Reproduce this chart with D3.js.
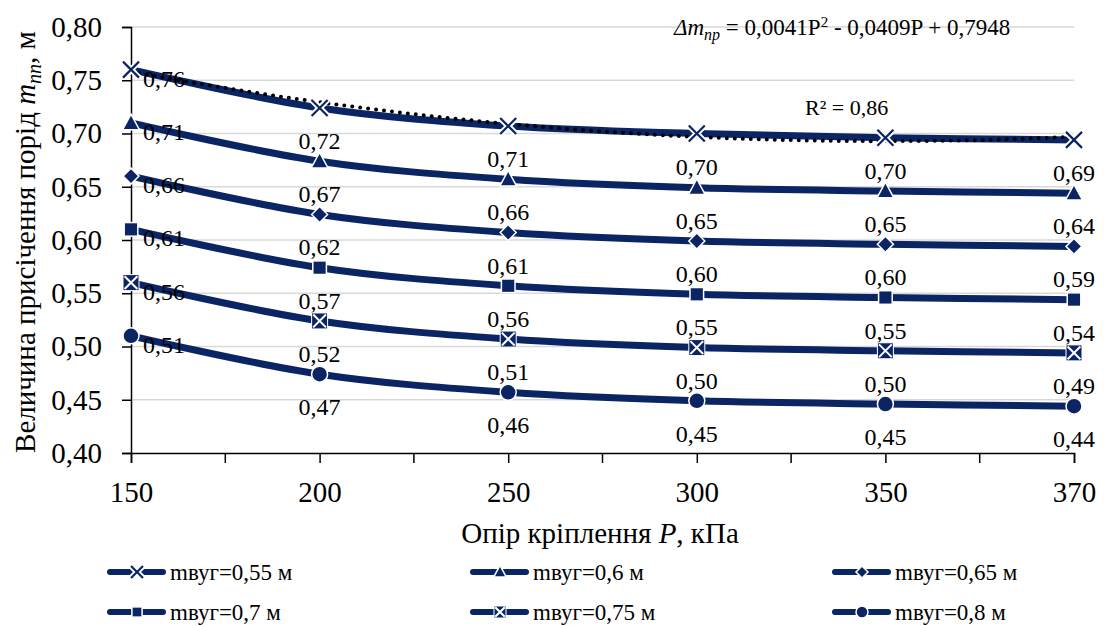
<!DOCTYPE html>
<html>
<head>
<meta charset="utf-8">
<script src="https://cdn.jsdelivr.net/npm/d3@7"></script>
</head>
<body style="margin:0;background:#fff">
<div id="chart"></div>
<script>
// categories (support resistance P, kPa)
const categories = ["150", "200", "250", "300", "350", "370"];

// series values, m
const s055 = [0.76, 0.724, 0.707, 0.700, 0.696, 0.694];
const s060 = [0.71, 0.674, 0.657, 0.649, 0.646, 0.644];
const s065 = [0.66, 0.624, 0.607, 0.599, 0.596, 0.594];
const s070 = [0.61, 0.574, 0.557, 0.549, 0.546, 0.544];
const s075 = [0.56, 0.524, 0.507, 0.499, 0.496, 0.494];
const s080 = [0.51, 0.474, 0.457, 0.449, 0.446, 0.444];

const seriesNames = ["mвуг=0,55 м", "mвуг=0,6 м", "mвуг=0,65 м", "mвуг=0,7 м", "mвуг=0,75 м", "mвуг=0,8 м"];
const markerTypes = ["x", "triangle", "diamond", "square", "xbox", "circle"];

// y ticks
const yTicks = [0.40, 0.45, 0.50, 0.55, 0.60, 0.65, 0.70, 0.75, 0.80];

// polynomial trendline on the first series (from the chart's equation)
const trendCoef = [0.7948, -0.0409, 0.0041];

const navy = "#0b2464";
const FONT = "Liberation Serif";
const W = 1104, H = 626;
const margin = {top: 27, right: 30, bottom: 173, left: 131};
const width = W - margin.left - margin.right;
const height = H - margin.top - margin.bottom;

const svg = d3.select("#chart").append("svg")
  .attr("width", W).attr("height", H);
const g = svg.append("g").attr("transform", `translate(${margin.left},${margin.top})`);

const x = d3.scalePoint().domain(categories).range([0, width]);
const y = d3.scaleLinear().domain([0.40, 0.80]).range([height, 0]);
const fmt = v => v.toFixed(2).replace(".", ",");

// grid
g.append("g").selectAll("line").data(yTicks.slice(1)).enter().append("line")
  .attr("x1", 0).attr("x2", width)
  .attr("y1", d => y(d)).attr("y2", d => y(d))
  .attr("stroke", "#d9d9d9").attr("stroke-width", 1.5);

// axes
const yAxis = g.append("g")
  .call(d3.axisLeft(y).tickValues(yTicks).tickSize(9).tickPadding(20).tickFormat(fmt));
const xAxis = g.append("g").attr("transform", `translate(0,${height})`)
  .call(d3.axisBottom(x).tickSize(10).tickPadding(18));
[yAxis, xAxis].forEach(a => {
  a.select(".domain").attr("stroke", "#000").attr("stroke-width", 1.5);
  a.selectAll(".tick line").attr("stroke", "#000").attr("stroke-width", 1.5);
  a.selectAll(".tick text").attr("fill", "#000")
    .attr("font-family", FONT).attr("font-size", 29);
});
// extra ticks between categories
const mids = d3.pairs(categories).map(p => (x(p[0]) + x(p[1])) / 2);
xAxis.selectAll(".mid").data(mids).enter().append("line")
  .attr("x1", d => d).attr("x2", d => d).attr("y1", 0).attr("y2", 10)
  .attr("stroke", "#000").attr("stroke-width", 1.5);

// lines
const allSeries = [s055, s060, s065, s070, s075, s080];
const line = d3.line()
  .x((d, i) => x(categories[i]))
  .y(d => y(d))
  .curve(d3.curveCatmullRom.alpha(0.5));

allSeries.forEach(s => {
  g.append("path").datum(s).attr("d", line)
    .attr("fill", "none").attr("stroke", navy).attr("stroke-width", 7);
});

// trendline
const tx = d3.scaleLinear().domain([1, categories.length]).range([0, width]);
const trendPts = d3.range(1, categories.length + 0.001, 0.05)
  .map(t => [tx(t), y(trendCoef[0] + trendCoef[1] * t + trendCoef[2] * t * t)]);
g.append("path").datum(trendPts).attr("d", d3.line())
  .attr("fill", "none").attr("stroke", "#000").attr("stroke-width", 4)
  .attr("stroke-linecap", "round").attr("stroke-dasharray", "0 8");

function drawMarker(sel, type, cx, cy, s) {
  const m = sel.append("g").attr("transform", `translate(${cx},${cy})`);
  if (type === "x") {
    const p = `M${-s},${-s}L${s},${s}M${-s},${s}L${s},${-s}`;
    m.append("path").attr("d", p).attr("stroke", "#fff").attr("stroke-width", 6);
    m.append("path").attr("d", p).attr("stroke", navy).attr("stroke-width", 2.2);
  } else if (type === "triangle") {
    m.append("path").attr("d", `M0,${-s * 1.1}L${s * 1.05},${s * 0.85}L${-s * 1.05},${s * 0.85}Z`)
      .attr("fill", navy).attr("stroke", "#fff").attr("stroke-width", 1.5);
  } else if (type === "diamond") {
    m.append("path").attr("d", `M0,${-s}L${s},0L0,${s}L${-s},0Z`)
      .attr("fill", navy).attr("stroke", "#fff").attr("stroke-width", 1.5);
  } else if (type === "square") {
    m.append("rect").attr("x", -s * 0.85).attr("y", -s * 0.85).attr("width", s * 1.7).attr("height", s * 1.7)
      .attr("fill", navy).attr("stroke", "#fff").attr("stroke-width", 1.5);
  } else if (type === "xbox") {
    m.append("rect").attr("x", -s).attr("y", -s).attr("width", 2 * s).attr("height", 2 * s)
      .attr("fill", navy).attr("stroke", "#fff").attr("stroke-width", 1);
    const k = s * 0.8;
    m.append("path").attr("d", `M${-k},${-k}L${k},${k}M${-k},${k}L${k},${-k}`)
      .attr("stroke", "#fff").attr("stroke-width", 2);
  } else {
    m.append("circle").attr("r", s).attr("fill", navy).attr("stroke", "#fff").attr("stroke-width", 1.5);
  }
}

// markers and data labels
allSeries.forEach((s, si) => {
  s.forEach((v, i) => {
    const cx = x(categories[i]), cy = y(v);
    drawMarker(g, markerTypes[si], cx, cy, 8);
    const t = g.append("text").text(fmt(v))
      .attr("font-family", FONT).attr("font-size", 24).attr("fill", "#000");
    if (i === 0) t.attr("x", cx + 12).attr("y", cy + 17);
    else t.attr("x", cx).attr("y", cy + 41).attr("text-anchor", "middle");
  });
});

// equation and R²
const eq = svg.append("text").attr("x", 674).attr("y", 35)
  .attr("font-family", FONT).attr("font-size", 23);
eq.append("tspan").attr("font-style", "italic").text("Δm");
eq.append("tspan").attr("font-style", "italic").attr("font-size", 16).attr("dy", 5).text("пр");
eq.append("tspan").attr("dy", -5).text(" = 0,0041P");
eq.append("tspan").attr("font-size", 15).attr("dy", -8).text("2");
eq.append("tspan").attr("dy", 8).text(" - 0,0409P + 0,7948");
svg.append("text").attr("x", 805).attr("y", 115)
  .attr("font-family", FONT).attr("font-size", 22).text("R² = 0,86");

// axis titles
const yt = svg.append("text").attr("transform", `translate(35,242) rotate(-90)`)
  .attr("font-family", FONT).attr("text-anchor", "middle").attr("font-size", 29);
yt.append("tspan").text("Величина присічення порід ");
yt.append("tspan").attr("font-style", "italic").text("m");
yt.append("tspan").attr("font-style", "italic").attr("font-size", 20).attr("dy", 6).text("пп");
yt.append("tspan").attr("dy", -6).text(", м");

const xt = svg.append("text").attr("x", 600).attr("y", 543)
  .attr("font-family", FONT).attr("text-anchor", "middle").attr("font-size", 29);
xt.append("tspan").text("Опір кріплення ");
xt.append("tspan").attr("font-style", "italic").text("P");
xt.append("tspan").text(", кПа");

// legend
const legX = [110, 473, 835], legY = [572, 612];
seriesNames.forEach((name, i) => {
  const lx = legX[i % 3], ly = legY[Math.floor(i / 3)];
  const lg = svg.append("g");
  lg.append("line").attr("x1", lx).attr("x2", lx + 53).attr("y1", ly).attr("y2", ly)
    .attr("stroke", navy).attr("stroke-width", 6).attr("stroke-linecap", "round");
  drawMarker(lg, markerTypes[i], lx + 27, ly, 6);
  lg.append("text").attr("x", lx + 60).attr("y", ly + 8)
    .attr("font-family", FONT).attr("font-size", 23).text(name);
});
</script>
</body>
</html>
